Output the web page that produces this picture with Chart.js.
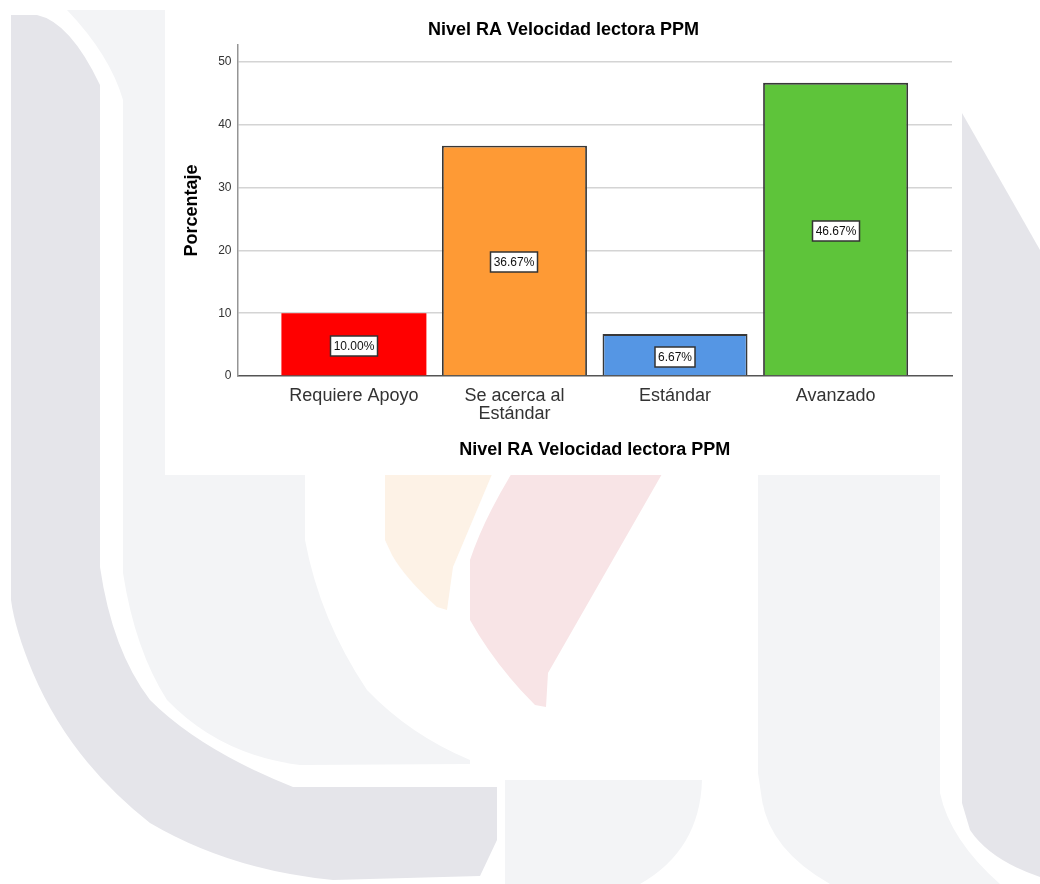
<!DOCTYPE html>
<html>
<head>
<meta charset="utf-8">
<script src="https://cdn.jsdelivr.net/npm/chart.js@4.4.1/dist/chart.umd.min.js"></script>
<style>
  html, body { margin: 0; padding: 0; background: #ffffff; }
  body { width: 1040px; height: 884px; position: relative; overflow: hidden; }
  #bg { position: absolute; left: 0; top: 0; }
  #panel { position: absolute; left: 165px; top: 5px; width: 797px; height: 470px; background: #ffffff; }
  canvas { display: block; }
</style>
</head>
<body>
<!-- faint institutional watermark behind the figure -->
<svg id="bg" width="1040" height="884" xmlns="http://www.w3.org/2000/svg">
  <path fill="#e5e5ea" d="M11,15 L37,15 Q70,22 100,85 L100,567 Q112,650 150,700 Q200,750 293,787 L497,787 L497,840 L480,876 L333,880 Q230,870 150,823 Q70,760 33,673 Q15,630 11,600 Z"/>
  <path fill="#f3f4f6" d="M67,10 L305,10 L305,540 Q320,620 367,690 Q410,735 470,760 L470,764 L300,765 Q220,755 167,700 Q135,650 123,573 L123,100 Q110,55 67,10 Z"/>
  <path fill="#fdf2e6" d="M385,460 L498,460 L453,567 L447,610 L437,607 Q405,578 392,555 L385,540 Z"/>
  <path fill="#f8e4e6" d="M520,460 L670,460 L548,673 L546,707 L535,705 Q495,665 470,620 L470,560 Q485,515 520,460 Z"/>
  <path fill="#f3f4f6" d="M758,460 L940,460 L940,793 Q950,840 1000,884 L830,884 Q770,850 762,800 L758,773 Z"/>
  <path fill="#e5e5ea" d="M962,113 L1040,250 L1040,877 Q990,860 970,830 L962,803 Z"/>
  <path fill="#f3f4f6" d="M505,780 L702,780 Q700,850 640,884 L505,884 Z"/>
</svg>

<div id="panel"><canvas id="chart" width="797" height="470"></canvas></div>

<script>
// Reading-speed level distribution (percent of students)
const chartTitle = 'Nivel RA Velocidad lectora PPM';
const categories = ['Requiere Apoyo', 'Se acerca al Estándar', 'Estándar', 'Avanzado'];
const categoryLines = [['Requiere Apoyo'], ['Se acerca al', 'Estándar'], ['Estándar'], ['Avanzado']];
const percentages = [10.00, 36.67, 6.67, 46.67];
const barColors = ['#ff0000', '#fe9a35', '#5596e4', '#5ec43a'];
const yTickValues = [0, 10, 20, 30, 40, 50];
const yAxisTitle = 'Porcentaje';

const FONT = 'Arial, "Liberation Sans", sans-serif';

// Boxed percentage label in the middle of each bar
const valueBoxes = {
  id: 'valueBoxes',
  afterDatasetsDraw(chart) {
    const ctx = chart.ctx;
    const meta = chart.getDatasetMeta(0);
    ctx.save();
    ctx.font = '12px ' + FONT;
    ctx.textAlign = 'center';
    ctx.textBaseline = 'middle';
    meta.data.forEach((bar, i) => {
      const txt = percentages[i].toFixed(2) + '%';
      const w = Math.round(ctx.measureText(txt).width + 6);
      const h = 20;
      const cx = Math.round(bar.x);
      const cy = Math.round((bar.y + bar.base) / 2 + 2);
      const x0 = cx - w / 2, y0 = cy - h / 2;
      ctx.fillStyle = '#ffffff';
      ctx.fillRect(x0, y0, w, h);
      ctx.strokeStyle = '#333333';
      ctx.lineWidth = 1.5;
      ctx.strokeRect(x0, y0, w, h);
      ctx.fillStyle = '#111111';
      ctx.fillText(txt, cx, cy + 1);
    });
    ctx.restore();
  }
};

new Chart(document.getElementById('chart'), {
  type: 'bar',
  data: {
    datasets: [{
      label: yAxisTitle,
      data: percentages.map((v, i) => ({ x: i, y: v })),
      backgroundColor: barColors,
      borderColor: ['#ff0000', '#383838', '#383838', '#383838'],
      borderWidth: [0, 1.8, 1.8, 1.8],
      categoryPercentage: 1,
      barPercentage: 0.903
    }]
  },
  options: {
    responsive: false,
    animation: false,
    layout: { padding: { left: 10, right: 10, top: 0, bottom: 0 } },
    plugins: {
      legend: { display: false },
      tooltip: { enabled: false },
      title: {
        display: true,
        text: chartTitle,
        color: '#000000',
        font: { family: FONT, size: 18, weight: 'bold' },
        padding: { top: 14.2, bottom: 4.2 }
      }
    },
    scales: {
      x: {
        type: 'linear',
        offset: false,
        min: -0.725,
        max: 3.725,
        afterBuildTicks(scale) { scale.ticks = categories.map((c, i) => ({ value: i })); },
        afterFit(scale) { scale.height = 99; },
        grid: { display: false, drawTicks: false, offset: false },
        border: { display: true, color: '#555555', width: 1.5 },
        ticks: {
          autoSkip: false,
          maxRotation: 0,
          padding: 11,
          color: '#333333',
          font: { family: FONT, size: 18, lineHeight: 1 },
          callback: (v) => categoryLines[v]
        },
        title: {
          display: true,
          text: chartTitle,
          color: '#000000',
          font: { family: FONT, size: 18, weight: 'bold' },
          padding: { top: 0, bottom: 14.5 }
        }
      },
      y: {
        min: 0,
        max: 52.7,
        afterBuildTicks(scale) { scale.ticks = yTickValues.map(v => ({ value: v })); },
        afterFit(scale) { scale.width = 62.5; },
        grid: {
          drawTicks: false,
          lineWidth: 1.5,
          color: (c) => (c.tick && c.tick.value === 0) ? 'rgba(0,0,0,0)' : '#d4d4d4'
        },
        border: { display: true, color: '#959595', width: 1.5 },
        ticks: {
          padding: 6,
          color: '#333333',
          font: { family: FONT, size: 12 }
        },
        title: {
          display: true,
          text: yAxisTitle,
          color: '#000000',
          font: { family: FONT, size: 18, weight: 'bold' },
          padding: { top: 6.2, bottom: 0 }
        }
      }
    }
  },
  plugins: [valueBoxes]
});
</script>
</body>
</html>
